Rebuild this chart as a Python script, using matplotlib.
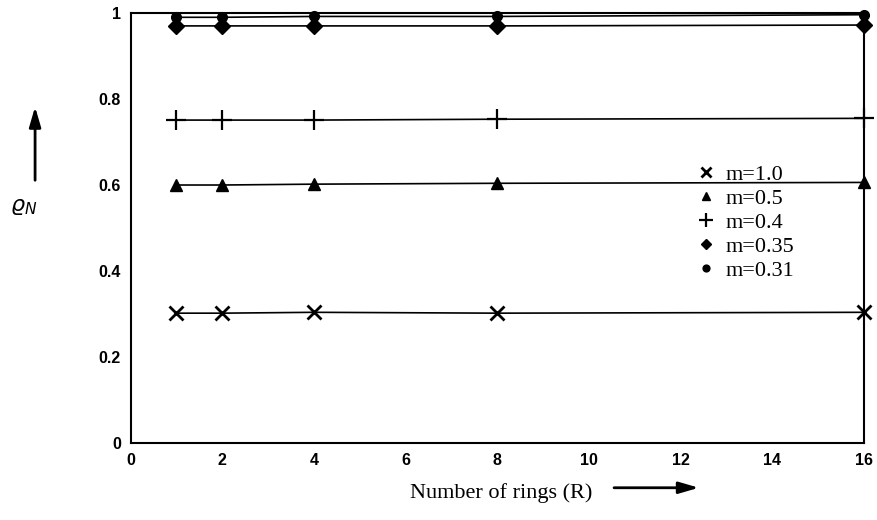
import matplotlib.pyplot as plt
from matplotlib.lines import Line2D

# number of rings
rings = [1, 2, 4, 8, 16]

# rho_N for each m
rho_m10 = [0.302, 0.302, 0.304, 0.302, 0.304]
rho_m05 = [0.600, 0.600, 0.602, 0.604, 0.606]
rho_m04 = [0.751, 0.751, 0.751, 0.753, 0.755]
rho_m035 = [0.970, 0.970, 0.970, 0.970, 0.972]
rho_m031 = [0.990, 0.990, 0.992, 0.992, 0.996]

labels = ["m=1.0", "m=0.5", "m=0.4", "m=0.35", "m=0.31"]

fig = plt.figure(figsize=(8.77, 5.2), dpi=100)
ax = fig.add_axes([0.149, 0.148, 0.836, 0.827])

# series: (data, marker, size, edge width)
series = [
    (rho_m10, "x", 10, 2.0),
    (rho_m05, "^", 9, 1.0),
    (rho_m04, "+", 14, 1.6),
    (rho_m035, "D", 8, 1.0),
    (rho_m031, "o", 7, 1.0),
]
for vals, mk, ms, mew in series:
    ax.plot(rings, vals, color="black", lw=1.2, marker=mk, ms=ms, mew=mew,
            clip_on=False, zorder=3)

ax.set_xlim(0, 16)
ax.set_ylim(0, 1)
ax.set_xticks([0, 2, 4, 6, 8, 10, 12, 14, 16])
ax.set_yticks([0, 0.2, 0.4, 0.6, 0.8, 1.0])
ax.set_yticklabels(["0", "0.2", "0.4", "0.6", "0.8", "1"])
ax.tick_params(length=0, pad=7)
for lab in ax.get_xticklabels() + ax.get_yticklabels():
    lab.set_fontfamily("Liberation Sans")
    lab.set_fontweight("bold")
    lab.set_fontsize(11.5)
for s in ax.spines.values():
    s.set_linewidth(1.5)

# legend, markers only
handles = [Line2D([], [], ls="none", color="black", marker=mk, ms=ms * 0.7, mew=mew)
           for _, mk, ms, mew in series]
ax.legend(handles, labels, loc="upper left", bbox_to_anchor=(0.745, 0.695),
          frameon=False, prop={"family": "Liberation Serif", "size": 16},
          handlelength=0.8, handletextpad=0.5, labelspacing=0.16)

fig.text(0.572, 0.052, "Number of rings (R)", family="Liberation Serif",
         fontsize=16, ha="center", va="center")
ax.annotate("", xy=(0.80, 0.062), xytext=(0.697, 0.062), xycoords="figure fraction",
            arrowprops=dict(arrowstyle="-|>,head_length=1.2,head_width=0.35",
                            color="black", lw=2))

fig.text(0.027, 0.602, r"$\varrho_N$", fontsize=16, ha="center", va="center")
ax.annotate("", xy=(0.040, 0.80), xytext=(0.040, 0.648), xycoords="figure fraction",
            arrowprops=dict(arrowstyle="-|>,head_length=1.2,head_width=0.35",
                            color="black", lw=2))

fig.savefig("out.png", dpi=100)
